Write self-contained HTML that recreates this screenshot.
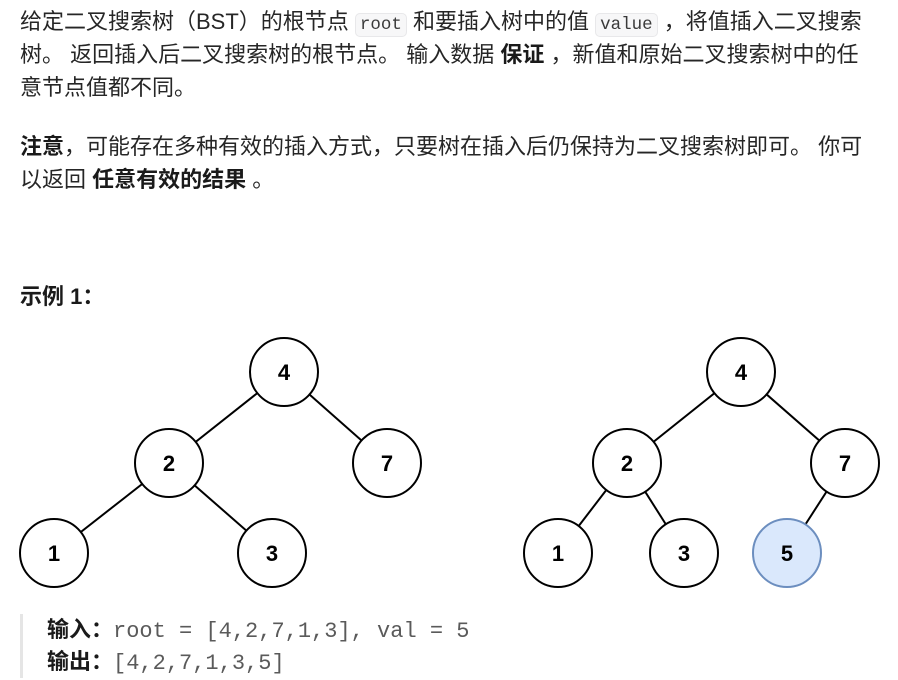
<!DOCTYPE html>
<html><head><meta charset="utf-8"><style>
body{margin:0;width:898px;height:678px;background:#fff;overflow:hidden;position:relative;font-family:"Liberation Sans","Noto Sans CJK SC",sans-serif;color:#262626;font-size:22px}
.l{position:absolute;left:20px;white-space:nowrap;line-height:33px}
code{font-family:"Liberation Mono",monospace;font-size:17.5px;background:#f7f7f8;border:1px solid #e8e8ea;border-radius:5px;padding:1px 4px;color:#3a3a3a}
b{font-weight:bold;color:#1a1a1a}
.m{font-family:"Liberation Mono",monospace;color:#5a5a5a;font-size:22px}
</style></head><body>
<div class="l" style="top:5px">给定二叉搜索树（BST）的根节点 <code>root</code> 和要插入树中的值 <code>value</code> ，将值插入二叉搜索</div>
<div class="l" style="top:38px">树。 返回插入后二叉搜索树的根节点。 输入数据 <b>保证</b> ，新值和原始二叉搜索树中的任</div>
<div class="l" style="top:71px">意节点值都不同。</div>
<div class="l" style="top:130px"><b>注意</b>，可能存在多种有效的插入方式，只要树在插入后仍保持为二叉搜索树即可。 你可</div>
<div class="l" style="top:163px">以返回 <b>任意有效的结果</b> 。</div>
<div class="l" style="top:280px"><b>示例 1：</b></div>
<svg style="position:absolute;left:0;top:0" width="898" height="678">
<g stroke="#000" stroke-width="2" fill="none">
<line x1="284" y1="372" x2="169" y2="463"/><line x1="284" y1="372" x2="387" y2="463"/>
<line x1="169" y1="463" x2="54" y2="553"/><line x1="169" y1="463" x2="272" y2="553"/>
<line x1="741" y1="372" x2="627" y2="463"/><line x1="741" y1="372" x2="845" y2="463"/>
<line x1="627" y1="463" x2="558" y2="553"/><line x1="627" y1="463" x2="684" y2="553"/>
<line x1="845" y1="463" x2="787" y2="553"/>
</g>
<g stroke="#000" stroke-width="2" fill="#fff">
<circle cx="284" cy="372" r="34"/><circle cx="169" cy="463" r="34"/><circle cx="387" cy="463" r="34"/>
<circle cx="54" cy="553" r="34"/><circle cx="272" cy="553" r="34"/>
<circle cx="741" cy="372" r="34"/><circle cx="627" cy="463" r="34"/><circle cx="845" cy="463" r="34"/>
<circle cx="558" cy="553" r="34"/><circle cx="684" cy="553" r="34"/>
<circle cx="787" cy="553" r="34" fill="#dae8fc" stroke="#6c8ebf"/>
</g>
<g font-family="Liberation Sans,sans-serif" font-weight="bold" font-size="22" text-anchor="middle" fill="#000">
<text x="284" y="380">4</text><text x="169" y="471">2</text><text x="387" y="471">7</text><text x="54" y="561">1</text><text x="272" y="561">3</text>
<text x="741" y="380">4</text><text x="627" y="471">2</text><text x="845" y="471">7</text><text x="558" y="561">1</text><text x="684" y="561">3</text><text x="787" y="561">5</text>
</g>
<rect x="20" y="614" width="3" height="64" fill="#e5e5e5"/>
</svg>
<div class="l" style="top:614px;left:47px;line-height:32px"><b>输入：</b><span class="m">root = [4,2,7,1,3], val = 5</span></div>
<div class="l" style="top:646px;left:47px;line-height:32px"><b>输出：</b><span class="m">[4,2,7,1,3,5]</span></div>
</body></html>
